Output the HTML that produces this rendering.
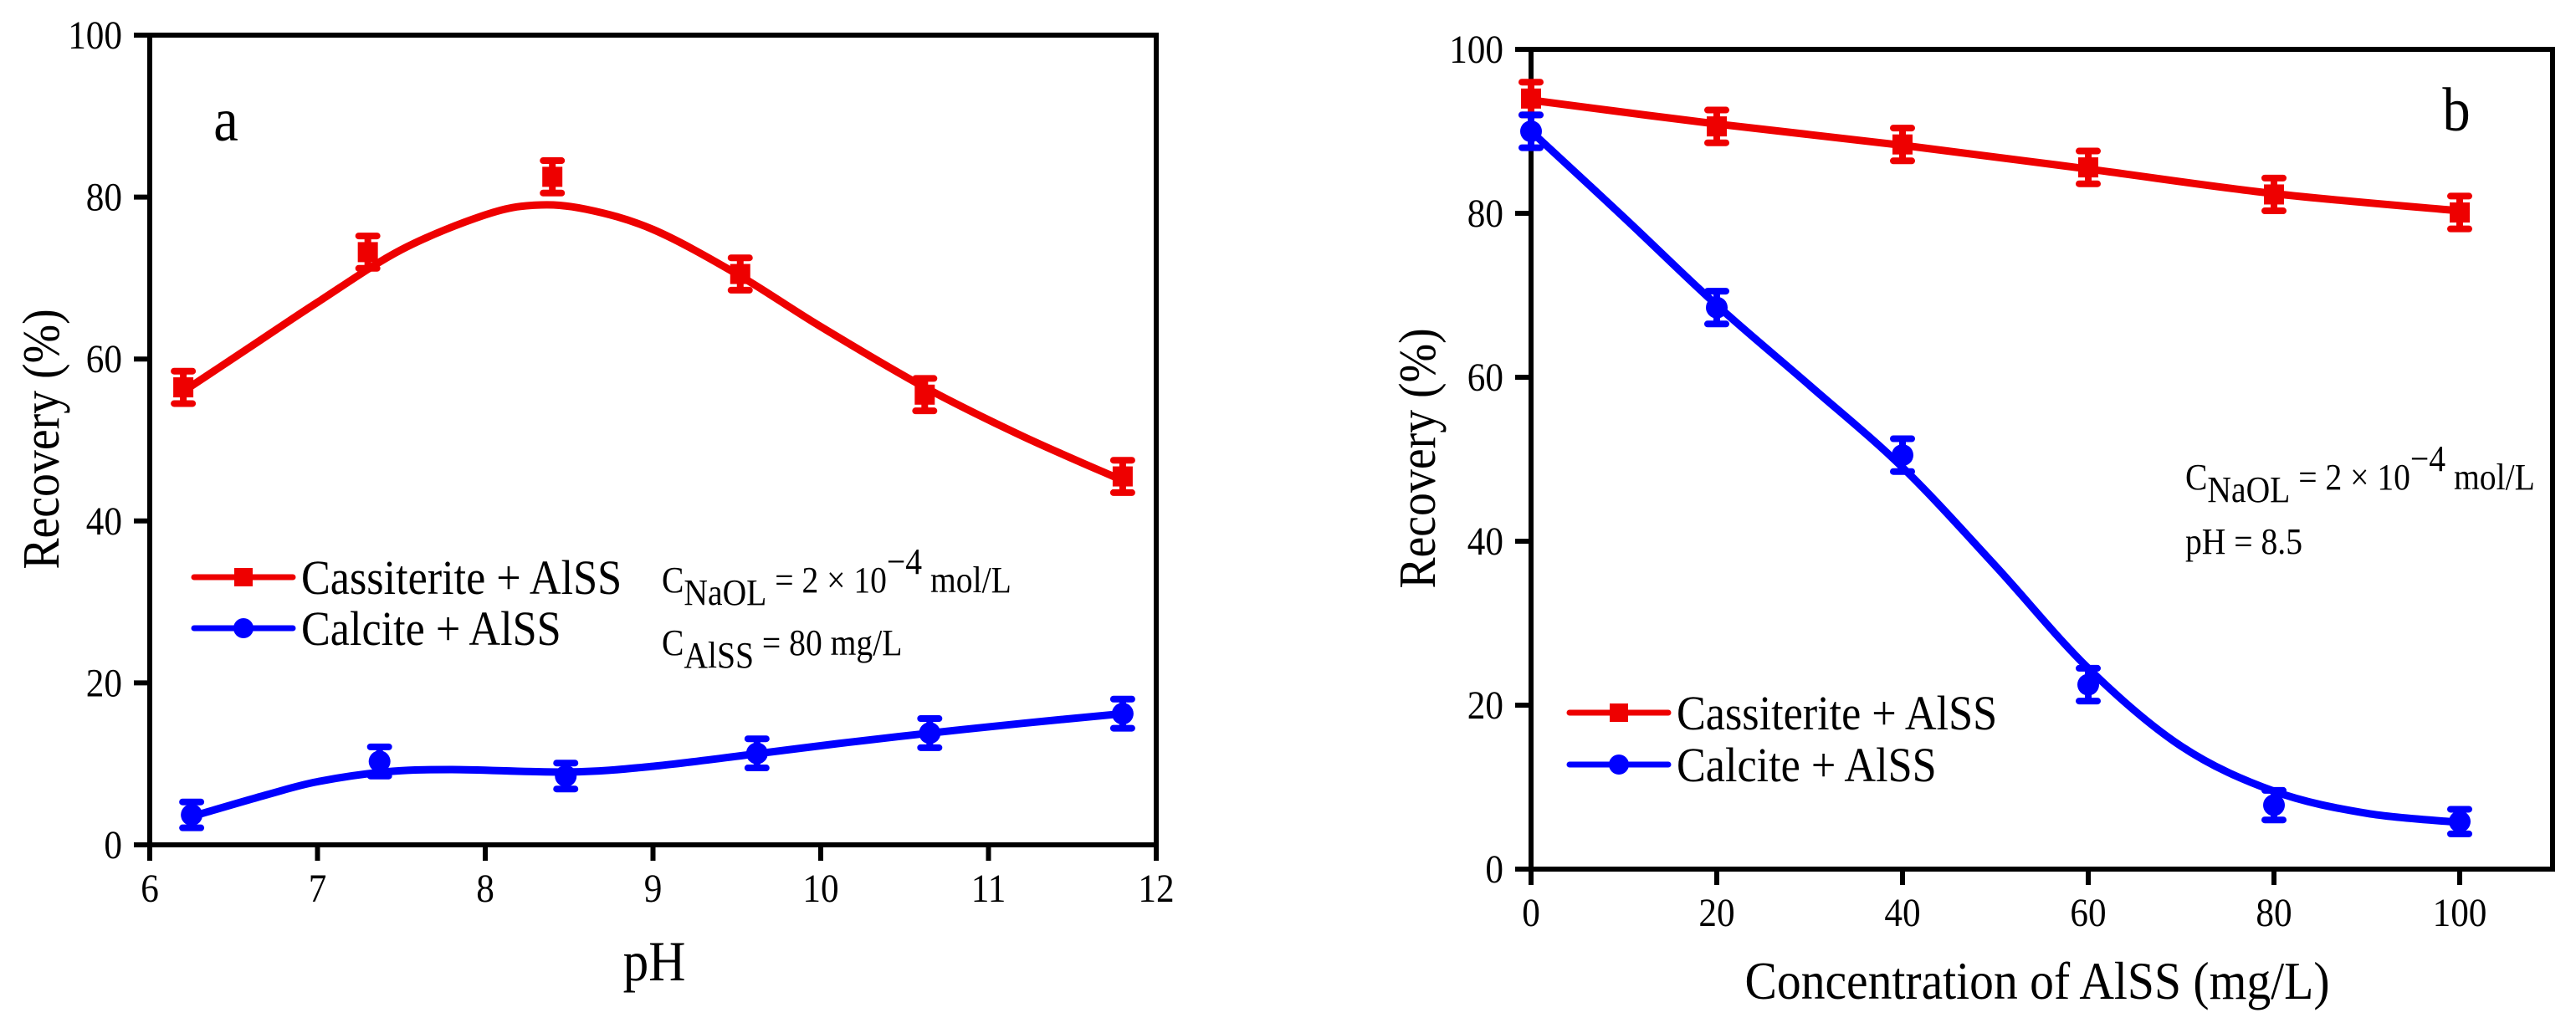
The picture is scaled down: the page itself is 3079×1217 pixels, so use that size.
<!DOCTYPE html>
<html><head><meta charset="utf-8"><style>
html,body{margin:0;padding:0;background:#fff;}
svg{display:block;}
svg text{font-family:"Liberation Serif","Times New Roman",serif;}
</style></head><body>
<svg id="fig" width="3079" height="1217" viewBox="0 0 3079 1217" xmlns="http://www.w3.org/2000/svg" font-family="Liberation Serif, serif">
<g id="pa"></g>
<g id="pb"></g>
</svg>
<script>
// Panel a data
const aRedX = [6.2, 7.3, 8.4, 9.52, 10.62, 11.8];
const aRedY = [56.5, 73.2, 82.5, 70.5, 55.6, 45.5];
const aRedErr = [2, 2, 2, 2, 2, 2];
const aRedFitX = [6.2, 6.6, 7.0, 7.5, 8.0, 8.3, 8.6, 9.0, 9.5, 10.0, 10.62, 11.2, 11.8];
const aRedFitY = [56, 61.5, 67, 73.5, 77.8, 79, 78.5, 76, 70.5, 64, 56.5, 50.5, 45];
const aBlueX = [6.25, 7.37, 8.48, 9.62, 10.65, 11.8];
const aBlueY = [3.7, 10.3, 8.5, 11.3, 13.8, 16.2];
const aBlueErr = [1.6, 1.8, 1.6, 1.8, 1.8, 1.8];
const aBlueFitX = [6.25, 6.7, 7.0, 7.4, 7.8, 8.5, 9.0, 9.6, 10.1, 10.65, 11.2, 11.8];
const aBlueFitY = [3.5, 6.2, 7.8, 9.0, 9.3, 9.0, 9.7, 11.2, 12.5, 13.8, 15.0, 16.2];
const aXTicks = [6, 7, 8, 9, 10, 11, 12];
const aYTicks = [0, 20, 40, 60, 80, 100];
// Panel b data
const bRedX = [0, 20, 40, 60, 80, 100];
const bRedY = [94, 90.6, 88.4, 85.6, 82.3, 80.1];
const bRedErr = [2, 2, 2, 2, 2, 2];
const bRedFitX = [0, 20, 40, 60, 80, 100];
const bRedFitY = [93.8, 90.9, 88.3, 85.4, 82.4, 80.3];
const bBlueX = [0, 20, 40, 60, 80, 100];
const bBlueY = [90, 68.5, 50.5, 22.5, 7.8, 5.8];
const bBlueErr = [2, 2, 2, 2, 1.8, 1.5];
const bBlueFitX = [0, 10, 20, 30, 40, 50, 60, 70, 80, 90, 100];
const bBlueFitY = [90, 79.5, 68.8, 59, 49, 37, 24.5, 15, 9.5, 6.8, 5.7];
const bXTicks = [0, 20, 40, 60, 80, 100];
const bYTicks = [0, 20, 40, 60, 80, 100];

const NS = "http://www.w3.org/2000/svg";
const FF = '"Liberation Serif", "Times New Roman", serif';
function mk(parent, tag, attrs){const e=document.createElementNS(NS,tag);for(const k in attrs)e.setAttribute(k,attrs[k]);parent.appendChild(e);return e;}
function txt(parent, x, y, s, size, anchor, rot){
  const g=mk(parent,'g',{transform:`translate(${x},${y})`+(rot?` rotate(${rot})`:'')+' scale(0.9,1)'});
  const t=mk(g,'text',{x:0,y:0,'font-size':size,'text-anchor':anchor||'start',fill:'#000','font-family':FF});
  t.textContent=s;return t;
}
function spline(pts){
  let d=`M${pts[0][0]},${pts[0][1]}`;
  for(let i=0;i<pts.length-1;i++){
    const p0=pts[Math.max(0,i-1)],p1=pts[i],p2=pts[i+1],p3=pts[Math.min(pts.length-1,i+2)];
    const c1=[p1[0]+(p2[0]-p0[0])/6,p1[1]+(p2[1]-p0[1])/6];
    const c2=[p2[0]-(p3[0]-p1[0])/6,p2[1]-(p3[1]-p1[1])/6];
    d+=` C${c1[0]},${c1[1]} ${c2[0]},${c2[1]} ${p2[0]},${p2[1]}`;
  }
  return d;
}
function panel(g, cfg){
  const sx=v=>cfg.x0+(v-cfg.xmin)/(cfg.xmax-cfg.xmin)*(cfg.x1-cfg.x0);
  const sy=v=>cfg.y0-(v-0)/(100)*(cfg.y0-cfg.y1);
  cfg.xt.forEach(v=>{
    const l=mk(g,'line',{x1:sx(v),x2:sx(v),y1:cfg.y0,y2:cfg.y0+19,stroke:'#000','stroke-width':6});
    
    
    const t=txt(g,sx(v),cfg.y0+68,String(v),48,'middle');
    
    
  });
  cfg.yt.forEach(v=>{
    const l=mk(g,'line',{x1:cfg.x0-19,x2:cfg.x0,y1:sy(v),y2:sy(v),stroke:'#000','stroke-width':6});
    
    
    const t=txt(g,cfg.x0-33,sy(v)+16,String(v),48,'end');
    
    
  });
  const fr=mk(g,'rect',{x:cfg.x0,y:cfg.y1,width:cfg.x1-cfg.x0,height:cfg.y0-cfg.y1,fill:'none',stroke:'#000','stroke-width':6});
  
  
  function series(fx,fy,px,py,pe,col,marker,nm){
    const p=mk(g,'path',{d:spline(fx.map((v,i)=>[sx(v),sy(fy[i])])),fill:'none',stroke:col,'stroke-width':9,'stroke-linejoin':'round'});
    
    
    px.forEach((v,i)=>{
      const x=sx(v),y=sy(py[i]),ya=sy(py[i]+pe[i]),yb=sy(py[i]-pe[i]);
      const e=mk(g,'path',{d:`M${x},${ya}V${yb}M${x-11},${ya}H${x+11}M${x-11},${yb}H${x+11}`,stroke:col,'stroke-width':8,'stroke-linecap':'round',fill:'none'});
      
      
      let m;
      if(marker==='sq') m=mk(g,'rect',{x:x-12,y:y-12,width:24,height:24,fill:col});
      else m=mk(g,'circle',{cx:x,cy:y,r:13,fill:col});
      
      
    });
  }
  series(cfg.rfx,cfg.rfy,cfg.rx,cfg.ry,cfg.re,'#ee0000','sq','cassiterite');
  series(cfg.bfx,cfg.bfy,cfg.bx,cfg.by,cfg.be,'#0000ff','ci','calcite');
  [[cfg.lg[1],'#ee0000','sq','Cassiterite + AlSS'],[cfg.lg[1]+cfg.lg[3],'#0000ff','ci','Calcite + AlSS']].forEach(([ly,col,mkr,lab])=>{
    const lx=cfg.lg[0];
    const l=mk(g,'line',{x1:lx,x2:lx+118,y1:ly,y2:ly,stroke:col,'stroke-width':7,'stroke-linecap':'round'});
    
    
    let m;
    if(mkr==='sq') m=mk(g,'rect',{x:lx+48,y:ly-11,width:22,height:22,fill:col});
    else m=mk(g,'circle',{cx:lx+59,cy:ly,r:12,fill:col});
    
    
    const t=txt(g,lx+128,ly+20,lab,58,'start');
    
    
  });
}
const pa=document.getElementById('pa'), pb=document.getElementById('pb');
panel(pa,{x0:179,x1:1382,y0:1010,y1:42,xmin:6,xmax:12,xt:aXTicks,yt:aYTicks,
  rx:aRedX,ry:aRedY,re:aRedErr,rfx:aRedFitX,rfy:aRedFitY,bx:aBlueX,by:aBlueY,be:aBlueErr,bfx:aBlueFitX,bfy:aBlueFitY,lg:[232,690,0,61]});
panel(pb,{x0:1830,x1:3051,y0:1039,y1:59,xmin:0,xmax:110,xt:bXTicks,yt:bYTicks,
  rx:bRedX,ry:bRedY,re:bRedErr,rfx:bRedFitX,rfy:bRedFitY,bx:bBlueX,by:bBlueY,be:bBlueErr,bfx:bBlueFitX,bfy:bBlueFitY,lg:[1876,852,0,62]});
let t;
t=txt(pa,70,525,'Recovery (%)',62,'middle',-90);


t=txt(pa,782,1172,'pH',68,'middle');


t=txt(pa,270,168,'a',74,'middle');


t=txt(pb,1715,548,'Recovery (%)',62,'middle',-90);


t=txt(pb,2435,1194,'Concentration of AlSS (mg/L)',64,'middle');


t=txt(pb,2936,156,'b',74,'middle');


function cond(parent,x,y,name){
  const g=mk(parent,'g',{transform:`translate(${x},${y}) scale(0.9,1)`});
  
  
  const te=mk(g,'text',{x:0,y:0,'font-size':44,fill:'#000','font-family':FF});
  te.innerHTML='C<tspan dy="15">NaOL</tspan><tspan dy="-15"> = 2 × 10</tspan><tspan dy="-22">−4</tspan><tspan dy="22"> mol/L</tspan>';
  return g;
}
cond(pa,791,708,'condition-naol-a');
{const g=mk(pa,'g',{transform:'translate(791,783) scale(0.9,1)'});


const te=mk(g,'text',{x:0,y:0,'font-size':44,fill:'#000','font-family':FF});
te.innerHTML='C<tspan dy="15">AlSS</tspan><tspan dy="-15"> = 80 mg/L</tspan>';}
cond(pb,2612,585,'condition-naol-b');
t=txt(pb,2612,662,'pH = 8.5',44,'start');


</script>
</body></html>
